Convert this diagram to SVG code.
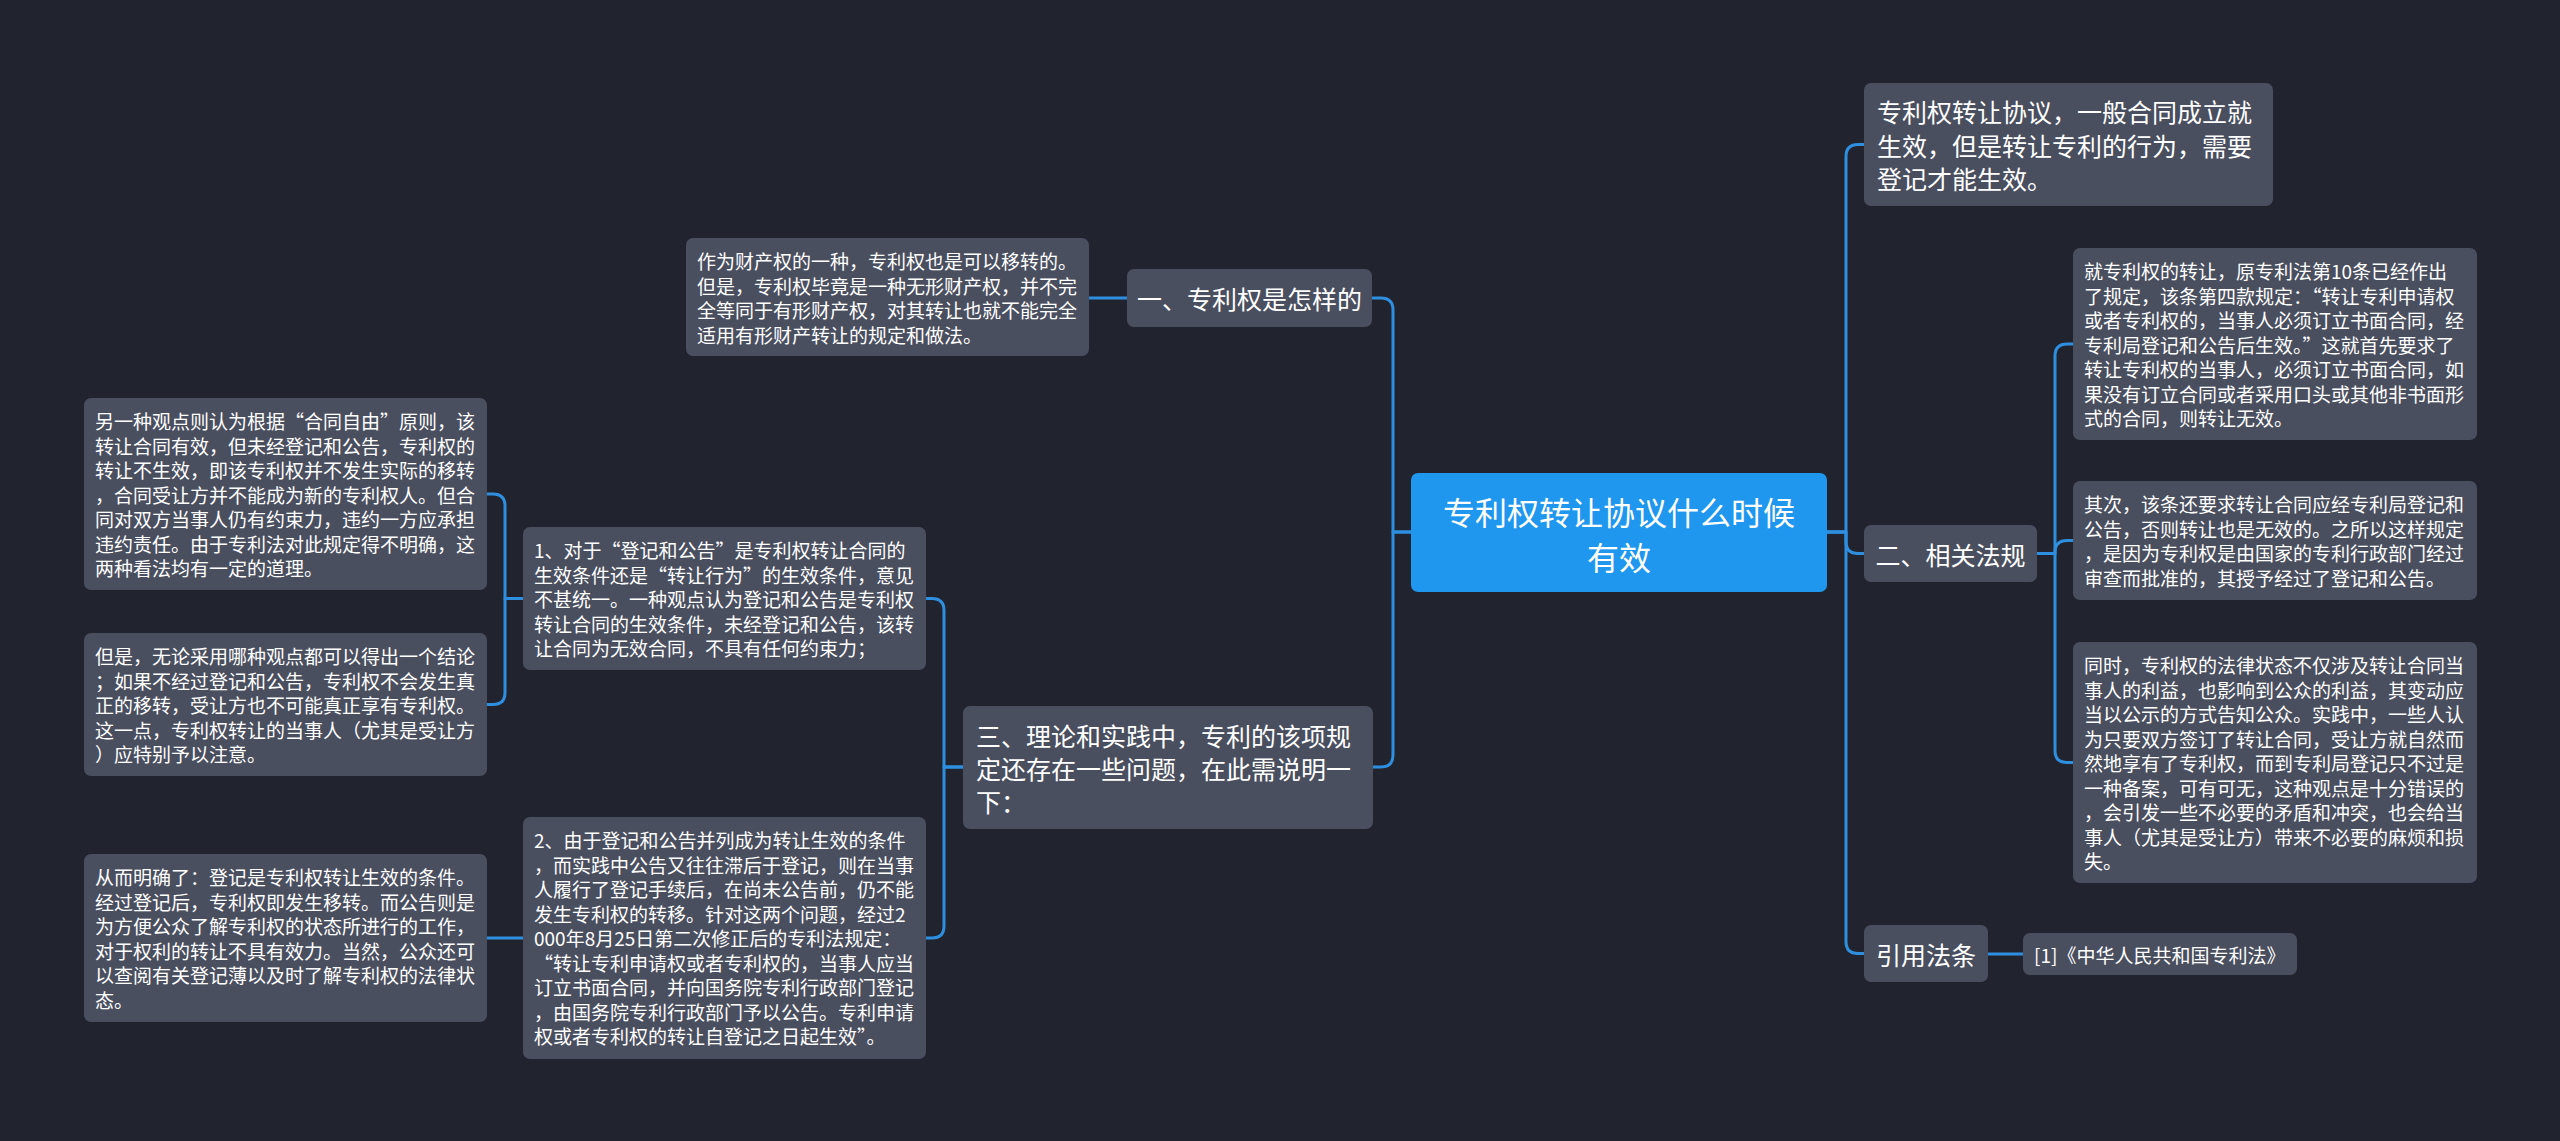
<svg xmlns="http://www.w3.org/2000/svg" width="2560" height="1141" viewBox="0 0 2560 1141">
<style>
.bg{fill:#21242e}
.n{fill:#4a4f5f}
.c{fill:#1f97ef}
.t{fill:#ffffff;font-family:"Noto Sans CJK SC","Noto Sans",sans-serif;dominant-baseline:central}
.s{font-size:19px}
.m{font-size:25px}
.l{font-size:32px}
.e{fill:none;stroke:#2e8fe0;stroke-width:3;stroke-linecap:round;stroke-linejoin:round}
</style>
<rect class="bg" x="0" y="0" width="2560" height="1141"/>
<g id="connectors">
<path class="e" d="M1411 532 H1393 V310 Q1393 298 1381 298 H1372"/>
<path class="e" d="M1411 532 H1393 V755 Q1393 767 1381 767 H1373"/>
<path class="e" d="M1827 532 H1846 V156.5 Q1846 144.5 1858 144.5 H1864"/>
<path class="e" d="M1827 532 H1846 V541.5 Q1846 553.5 1858 553.5 H1864"/>
<path class="e" d="M1827 532 H1846 V941.5 Q1846 953.5 1858 953.5 H1864"/>
<path class="e" d="M2037 553.5 H2055 V356 Q2055 344 2067 344 H2073"/>
<path class="e" d="M2037 553.5 H2055 V552.5 Q2055 540.5 2067 540.5 H2073"/>
<path class="e" d="M2037 553.5 H2055 V750.5 Q2055 762.5 2067 762.5 H2073"/>
<path class="e" d="M1988 954 H2023"/>
<path class="e" d="M1127 298 H1089"/>
<path class="e" d="M963 767 H944 V610.5 Q944 598.5 932 598.5 H926"/>
<path class="e" d="M963 767 H944 V926 Q944 938 932 938 H926"/>
<path class="e" d="M523 598.5 H505 V506 Q505 494 493 494 H487"/>
<path class="e" d="M523 598.5 H505 V692.5 Q505 704.5 493 704.5 H487"/>
<path class="e" d="M523 938 H487"/>
</g>
<g id="center">
<rect class="c" x="1411" y="473" width="416" height="119" rx="7"/>
<text class="t l" x="1619" y="511" text-anchor="middle">专利权转让协议什么时候</text>
<text class="t l" x="1619" y="556" text-anchor="middle">有效</text>
</g>
<g id="n1">
<rect class="n" x="1127" y="269" width="245" height="58" rx="7"/>
<text class="t m" x="1249.5" y="298" text-anchor="middle">一、专利权是怎样的</text>
</g>
<g id="n1a">
<rect class="n" x="686" y="238" width="403" height="118" rx="7"/>
<text class="t s" x="697" y="260.5">作为财产权的一种，专利权也是可以移转的。</text>
<text class="t s" x="697" y="285">但是，专利权毕竟是一种无形财产权，并不完</text>
<text class="t s" x="697" y="309.5">全等同于有形财产权，对其转让也就不能完全</text>
<text class="t s" x="697" y="334">适用有形财产转让的规定和做法。</text>
</g>
<g id="n3">
<rect class="n" x="963" y="706" width="410" height="123" rx="7"/>
<text class="t m" x="976" y="734.5">三、理论和实践中，专利的该项规</text>
<text class="t m" x="976" y="767.5">定还存在一些问题，在此需说明一</text>
<text class="t m" x="976" y="800.5">下：</text>
</g>
<g id="n3a">
<rect class="n" x="523" y="527" width="403" height="143" rx="7"/>
<text class="t s" x="534" y="549.5">1、对于“登记和公告”是专利权转让合同的</text>
<text class="t s" x="534" y="574">生效条件还是“转让行为”的生效条件，意见</text>
<text class="t s" x="534" y="598.5">不甚统一。一种观点认为登记和公告是专利权</text>
<text class="t s" x="534" y="623">转让合同的生效条件，未经登记和公告，该转</text>
<text class="t s" x="534" y="647.5">让合同为无效合同，不具有任何约束力；</text>
</g>
<g id="n3a1">
<rect class="n" x="84" y="398" width="403" height="192" rx="7"/>
<text class="t s" x="95" y="420.5">另一种观点则认为根据“合同自由”原则，该</text>
<text class="t s" x="95" y="445">转让合同有效，但未经登记和公告，专利权的</text>
<text class="t s" x="95" y="469.5">转让不生效，即该专利权并不发生实际的移转</text>
<text class="t s" x="95" y="494">，合同受让方并不能成为新的专利权人。但合</text>
<text class="t s" x="95" y="518.5">同对双方当事人仍有约束力，违约一方应承担</text>
<text class="t s" x="95" y="543">违约责任。由于专利法对此规定得不明确，这</text>
<text class="t s" x="95" y="567.5">两种看法均有一定的道理。</text>
</g>
<g id="n3a2">
<rect class="n" x="84" y="633" width="403" height="143" rx="7"/>
<text class="t s" x="95" y="655.5">但是，无论采用哪种观点都可以得出一个结论</text>
<text class="t s" x="95" y="680">；如果不经过登记和公告，专利权不会发生真</text>
<text class="t s" x="95" y="704.5">正的移转，受让方也不可能真正享有专利权。</text>
<text class="t s" x="95" y="729">这一点，专利权转让的当事人（尤其是受让方</text>
<text class="t s" x="95" y="753.5">）应特别予以注意。</text>
</g>
<g id="n3b">
<rect class="n" x="523" y="817" width="403" height="242" rx="7"/>
<text class="t s" x="534" y="839.5">2、由于登记和公告并列成为转让生效的条件</text>
<text class="t s" x="534" y="864">，而实践中公告又往往滞后于登记，则在当事</text>
<text class="t s" x="534" y="888.5">人履行了登记手续后，在尚未公告前，仍不能</text>
<text class="t s" x="534" y="913">发生专利权的转移。针对这两个问题，经过2</text>
<text class="t s" x="534" y="937.5">000年8月25日第二次修正后的专利法规定：</text>
<text class="t s" x="534" y="962">“转让专利申请权或者专利权的，当事人应当</text>
<text class="t s" x="534" y="986.5">订立书面合同，并向国务院专利行政部门登记</text>
<text class="t s" x="534" y="1011">，由国务院专利行政部门予以公告。专利申请</text>
<text class="t s" x="534" y="1035.5">权或者专利权的转让自登记之日起生效”。</text>
</g>
<g id="n3b1">
<rect class="n" x="84" y="854" width="403" height="168" rx="7"/>
<text class="t s" x="95" y="876.5">从而明确了：登记是专利权转让生效的条件。</text>
<text class="t s" x="95" y="901">经过登记后，专利权即发生移转。而公告则是</text>
<text class="t s" x="95" y="925.5">为方便公众了解专利权的状态所进行的工作，</text>
<text class="t s" x="95" y="950">对于权利的转让不具有效力。当然，公众还可</text>
<text class="t s" x="95" y="974.5">以查阅有关登记薄以及时了解专利权的法律状</text>
<text class="t s" x="95" y="999">态。</text>
</g>
<g id="r1">
<rect class="n" x="1864" y="83" width="409" height="123" rx="7"/>
<text class="t m" x="1877" y="111">专利权转让协议，一般合同成立就</text>
<text class="t m" x="1877" y="144.5">生效，但是转让专利的行为，需要</text>
<text class="t m" x="1877" y="178">登记才能生效。</text>
</g>
<g id="r2">
<rect class="n" x="1864" y="525" width="173" height="57" rx="7"/>
<text class="t m" x="1950.5" y="553.5" text-anchor="middle">二、相关法规</text>
</g>
<g id="r2a">
<rect class="n" x="2073" y="248" width="404" height="192" rx="7"/>
<text class="t s" x="2084" y="270.5">就专利权的转让，原专利法第10条已经作出</text>
<text class="t s" x="2084" y="295">了规定，该条第四款规定：“转让专利申请权</text>
<text class="t s" x="2084" y="319.5">或者专利权的，当事人必须订立书面合同，经</text>
<text class="t s" x="2084" y="344">专利局登记和公告后生效。”这就首先要求了</text>
<text class="t s" x="2084" y="368.5">转让专利权的当事人，必须订立书面合同，如</text>
<text class="t s" x="2084" y="393">果没有订立合同或者采用口头或其他非书面形</text>
<text class="t s" x="2084" y="417.5">式的合同，则转让无效。</text>
</g>
<g id="r2b">
<rect class="n" x="2073" y="481" width="404" height="119" rx="7"/>
<text class="t s" x="2084" y="503.5">其次，该条还要求转让合同应经专利局登记和</text>
<text class="t s" x="2084" y="528">公告，否则转让也是无效的。之所以这样规定</text>
<text class="t s" x="2084" y="552.5">，是因为专利权是由国家的专利行政部门经过</text>
<text class="t s" x="2084" y="577">审查而批准的，其授予经过了登记和公告。</text>
</g>
<g id="r2c">
<rect class="n" x="2073" y="642" width="404" height="241" rx="7"/>
<text class="t s" x="2084" y="664.5">同时，专利权的法律状态不仅涉及转让合同当</text>
<text class="t s" x="2084" y="689">事人的利益，也影响到公众的利益，其变动应</text>
<text class="t s" x="2084" y="713.5">当以公示的方式告知公众。实践中，一些人认</text>
<text class="t s" x="2084" y="738">为只要双方签订了转让合同，受让方就自然而</text>
<text class="t s" x="2084" y="762.5">然地享有了专利权，而到专利局登记只不过是</text>
<text class="t s" x="2084" y="787">一种备案，可有可无，这种观点是十分错误的</text>
<text class="t s" x="2084" y="811.5">，会引发一些不必要的矛盾和冲突，也会给当</text>
<text class="t s" x="2084" y="836">事人（尤其是受让方）带来不必要的麻烦和损</text>
<text class="t s" x="2084" y="860.5">失。</text>
</g>
<g id="r3">
<rect class="n" x="1864" y="925" width="124" height="57" rx="7"/>
<text class="t m" x="1926" y="953.5" text-anchor="middle">引用法条</text>
</g>
<g id="r3a">
<rect class="n" x="2023" y="933" width="274" height="42" rx="7"/>
<text class="t s" x="2034" y="954">[1]《中华人民共和国专利法》</text>
</g>
</svg>
